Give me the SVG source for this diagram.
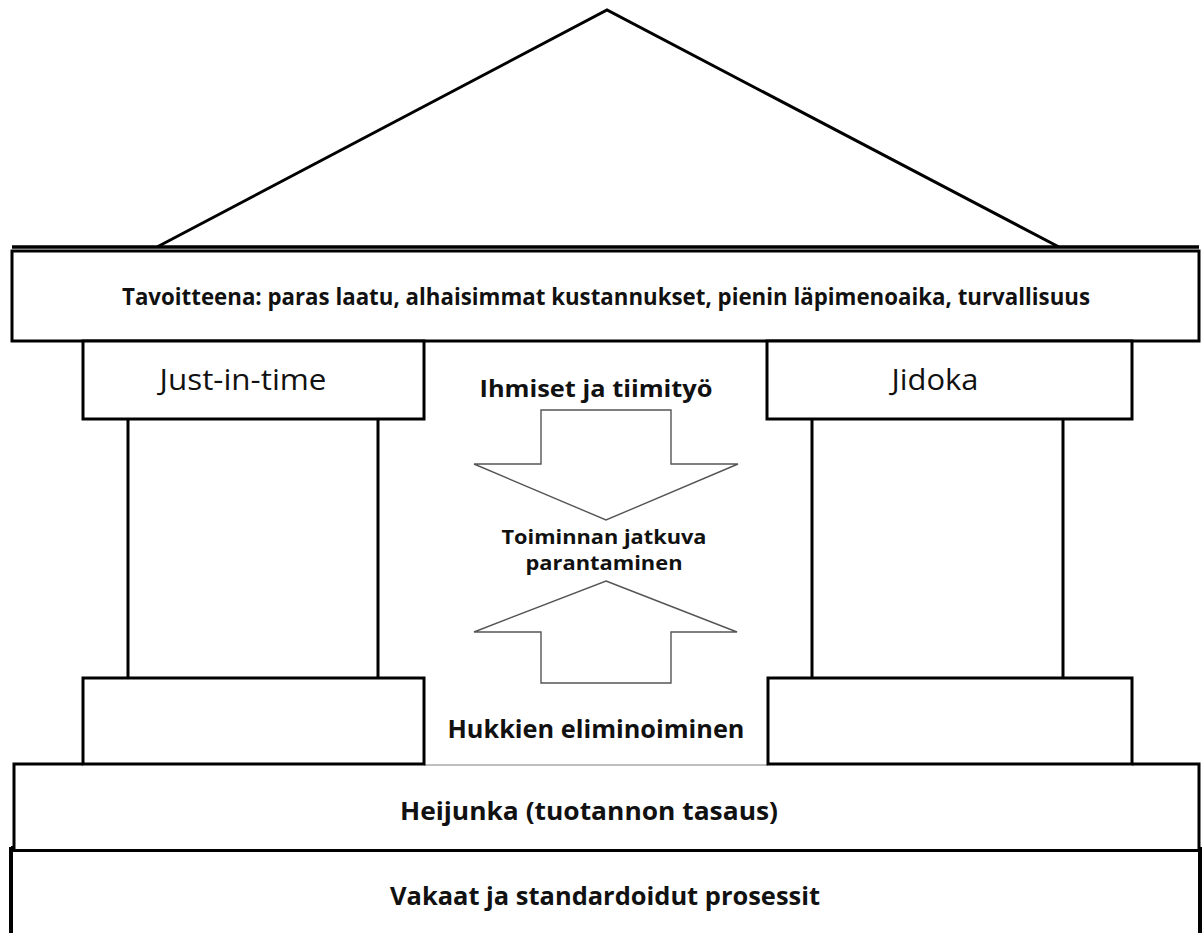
<svg xmlns="http://www.w3.org/2000/svg" width="1202" height="933" viewBox="0 0 1202 933">
<style>
.ln{fill:none;stroke:#000;stroke-width:3;stroke-linejoin:miter}
.box{fill:#fff;stroke:#000;stroke-width:3}
.arr{fill:#fff;stroke:#555;stroke-width:1.4;stroke-linejoin:miter}
.b{font-family:"Open Sans","Liberation Sans",sans-serif;font-weight:bold;fill:#111;text-anchor:middle}
.r{font-family:"Open Sans","Liberation Sans",sans-serif;font-weight:normal;fill:#111;text-anchor:middle}
</style>
<rect width="1202" height="933" fill="#fff"/>
<g id="roof">
<polyline class="ln" points="157,247 607,10 1059,247"/>
</g>
<g id="pillars">
<line class="ln" x1="128" y1="419" x2="128" y2="679"/>
<line class="ln" x1="378" y1="419" x2="378" y2="679"/>
<line class="ln" x1="812" y1="419" x2="812" y2="679"/>
<line class="ln" x1="1063" y1="419" x2="1063" y2="679"/>
</g>
<g id="base">
<rect x="11" y="849" width="1189" height="90" fill="#fff" stroke="#000" stroke-width="4"/>
<line x1="11" y1="849" x2="1200" y2="849" stroke="#000" stroke-width="6"/>
</g>
<g id="heijunka">
<rect x="14" y="764" width="1186" height="85" fill="#fff" stroke="none"/>
<path class="ln" d="M14,849 V764 H83 M1132,764 H1199 V849"/>
<line x1="424" y1="765" x2="768" y2="765" stroke="#aaa" stroke-width="1.5"/>
<text class="b" x="589" y="820" font-size="25" textLength="378" lengthAdjust="spacingAndGlyphs">Heijunka (tuotannon tasaus)</text>
</g>
<g id="vakaat-label">
<text class="b" x="605" y="905" font-size="25" textLength="430" lengthAdjust="spacingAndGlyphs">Vakaat ja standardoidut prosessit</text>
</g>
<g id="jit-base">
<rect class="box" x="83" y="678" width="341" height="86"/>
</g>
<g id="jidoka-base">
<rect class="box" x="768" y="678" width="364" height="86"/>
</g>
<g id="beam">
<rect class="box" x="12" y="251" width="1187" height="90"/>
<line x1="12" y1="247" x2="1199" y2="247" stroke="#000" stroke-width="3.5"/>
<text class="b" x="606" y="305" font-size="23.5" textLength="968" lengthAdjust="spacingAndGlyphs">Tavoitteena: paras laatu, alhaisimmat kustannukset, pienin läpimenoaika, turvallisuus</text>
</g>
<g id="jit">
<rect class="box" x="83" y="341" width="341" height="78"/>
<text class="r" x="243" y="390" font-size="29" textLength="167" lengthAdjust="spacingAndGlyphs">Just-in-time</text>
</g>
<g id="jidoka">
<rect class="box" x="767" y="341" width="365" height="78"/>
<text class="r" x="935" y="390" font-size="29" textLength="87" lengthAdjust="spacingAndGlyphs">Jidoka</text>
</g>
<g id="center">
<text class="b" x="596" y="397" font-size="23.5" textLength="233" lengthAdjust="spacingAndGlyphs">Ihmiset ja tiimityö</text>
<text class="b" x="604" y="544" font-size="20" textLength="205" lengthAdjust="spacingAndGlyphs">Toiminnan jatkuva</text>
<text class="b" x="604" y="570" font-size="20" textLength="157" lengthAdjust="spacingAndGlyphs">parantaminen</text>
<text class="b" x="596" y="738" font-size="25" textLength="297" lengthAdjust="spacingAndGlyphs">Hukkien eliminoiminen</text>
</g>
<g id="connectors">
<polygon class="arr" points="541,410 671,410 671,464 738,464 606,520 474,464 541,464"/>
<polygon class="arr" points="606,581 737,632 671,632 671,683 541,683 541,632 474,632"/>
</g>
</svg>
